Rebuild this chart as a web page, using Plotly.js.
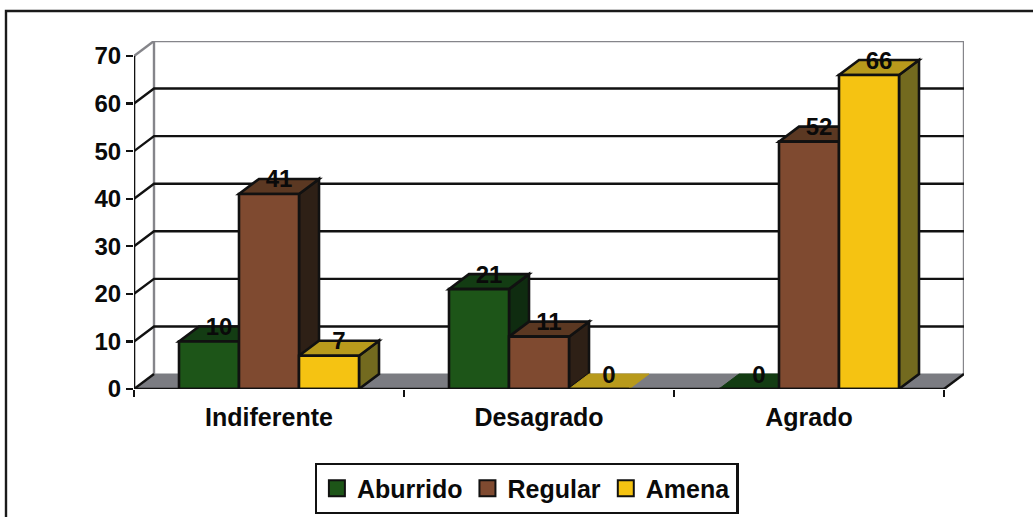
<!DOCTYPE html>
<html>
<head>
<meta charset="utf-8">
<script src="https://cdn.plot.ly/plotly-3.0.1.min.js"></script>
<style>html,body{margin:0;padding:0;background:#fff;overflow:hidden}</style>
</head>
<body>
<div id="chart" style="width:1033px;height:517px"></div>
<script>
const categories = ["Indiferente", "Desagrado", "Agrado"];
const seriesNames = ["Aburrido", "Regular", "Amena"];
const aburrido = [10, 21, 0];
const regular = [41, 11, 52];
const amena = [7, 0, 66];
const yTicks = [0, 10, 20, 30, 40, 50, 60, 70];
const frontColors = ["#1d5518", "#7f4a30", "#f5c312"];
const topColors = ["#133c13", "#5b3822", "#b89a1c"];
const sideColors = ["#0f2c10", "#2e2016", "#736a1f"];

const W = 1033, H = 517, L = 134, R = 964, T = 41, B = 389;
const DX = 20 / 270, DY = 15 / 4.758, BAR = 60 / 270;
const LABEL_DROP = 2.5 / 4.758;
const catIdx = categories.map((_, i) => i);
const xMin = -0.5, xMax = categories.length - 0.5;
const all = [aburrido, regular, amena];
const offs = [-BAR, 0, BAR];
const ink = "#111111", wall = "#85858a";
const font = {family: '"Liberation Sans", Arial, sans-serif', color: "#0a0a0a", weight: 700};

function poly(pts, fill, lineColor, width) {
  return {type: "path", layer: "below", xref: "x", yref: "y",
    path: "M" + pts.map(p => p[0] + "," + p[1]).join("L") + "Z",
    fillcolor: fill, line: {color: lineColor, width: width}};
}
function seg(pts, color, width) {
  return {type: "path", layer: "below", xref: "x", yref: "y",
    path: "M" + pts.map(p => p[0] + "," + p[1]).join("L"),
    line: {color: color, width: width}};
}

const shapes = [];
// floor and back wall
shapes.push(poly([[xMin, 0], [xMax, 0], [xMax + DX, DY], [xMin + DX, DY]], "#7b7c82", "#7b7c82", 1));
shapes.push(seg([[xMin + DX, DY], [xMin + DX, 70 + DY], [xMax + DX, 70 + DY], [xMax + DX, DY]], wall, 2.4));
shapes.push(seg([[xMin, 70], [xMin + DX, 70 + DY]], wall, 2.4));
yTicks.slice(1, -1).forEach(v => shapes.push(seg([[xMin, v], [xMin + DX, v + DY], [xMax + DX, v + DY]], ink, 2.4)));
shapes.push(seg([[xMin, 0], [xMin + DX, DY]], ink, 2.4));
shapes.push(seg([[xMax, 0], [xMax + DX, DY]], ink, 2.4));
// 3-D faces, painted from left to right
catIdx.forEach(c => all.forEach((vals, s) => {
  const x0 = c + offs[s] - BAR / 2, x1 = x0 + BAR, v = vals[c];
  if (v > 0) shapes.push(poly([[x1, 0], [x1 + DX, DY], [x1 + DX, v + DY], [x1, v]], sideColors[s], ink, 2.6));
  shapes.push(poly([[x0, v], [x1, v], [x1 + DX, v + DY], [x0 + DX, v + DY]], topColors[s], v > 0 ? ink : topColors[s], v > 0 ? 2.6 : 1));
}));
// outer frame: left and top rules
const px = x => (x - L) / (R - L), py = y => (B - y) / (B - T);
shapes.push({type: "path", xref: "paper", yref: "paper", layer: "below",
  path: `M${px(6)},${py(H)}L${px(6)},${py(11)}L${px(W)},${py(11)}`,
  line: {color: "#1a1a1a", width: 2.4}});

const traces = [];
all.forEach((vals, s) => traces.push({
  type: "bar", x: catIdx.map(c => c + offs[s]), y: vals, width: BAR, name: seriesNames[s],
  marker: {color: frontColors[s], line: {color: ink, width: 2.6}},
  showlegend: false, hoverinfo: "skip"
}));
// axis lines
traces.push({type: "scatter", mode: "lines", x: [xMin, xMin], y: [yTicks[0], yTicks[yTicks.length - 1]],
  line: {color: ink, width: 2.6}, cliponaxis: false, showlegend: false, hoverinfo: "skip"});
traces.push({type: "scatter", mode: "lines", x: [xMin, xMax], y: [0, 0],
  line: {color: ink, width: 2.6}, cliponaxis: false, showlegend: false, hoverinfo: "skip"});
// data labels
all.forEach((vals, s) => traces.push({
  type: "scatter", mode: "text",
  x: catIdx.map(c => c + offs[s] + DX / 2), y: vals.map(v => v + DY - LABEL_DROP),
  text: vals.map(String), textposition: "middle center",
  textfont: Object.assign({}, font, {size: 24}),
  cliponaxis: false, showlegend: false, hoverinfo: "skip"
}));
// legend entries
seriesNames.forEach((n, s) => traces.push({
  type: "scatter", mode: "markers", x: [null], y: [null], name: n,
  marker: {symbol: "square", size: 16, color: frontColors[s], line: {color: ink, width: 2}},
  hoverinfo: "skip"
}));

const layout = {
  width: W, height: H,
  margin: {l: L, r: W - R, t: T, b: H - B, pad: 0, autoexpand: false},
  paper_bgcolor: "#fff", plot_bgcolor: "#fff",
  barmode: "overlay", showlegend: true,
  xaxis: {
    range: [xMin, xMax + DX], showgrid: false, zeroline: false, showline: false,
    tickmode: "array", tickvals: catIdx, ticktext: categories, ticks: "",
    tickfont: Object.assign({}, font, {size: 25}), ticklabelstandoff: 11,
    minor: {tickmode: "array", tickvals: [-0.5, 0.5, 1.5, 2.5], ticks: "outside", ticklen: 7, tickwidth: 2.4, tickcolor: ink, showgrid: false}
  },
  yaxis: {
    range: [0, 70 + DY], showgrid: false, zeroline: false, showline: false,
    tickmode: "array", tickvals: yTicks, ticks: "outside", ticklen: 7, tickwidth: 2.4, tickcolor: ink,
    tickfont: Object.assign({}, font, {size: 24})
  },
  legend: {
    orientation: "h", x: px(526.5), xanchor: "center", y: py(463), yanchor: "top",
    bgcolor: "#fff", bordercolor: ink, borderwidth: 2.4,
    font: Object.assign({}, font, {size: 25}), itemclick: false, itemdoubleclick: false,
    traceorder: "normal"
  },
  shapes: shapes
};
Plotly.newPlot("chart", traces, layout, {displayModeBar: false, staticPlot: true});
</script>
</body>
</html>
